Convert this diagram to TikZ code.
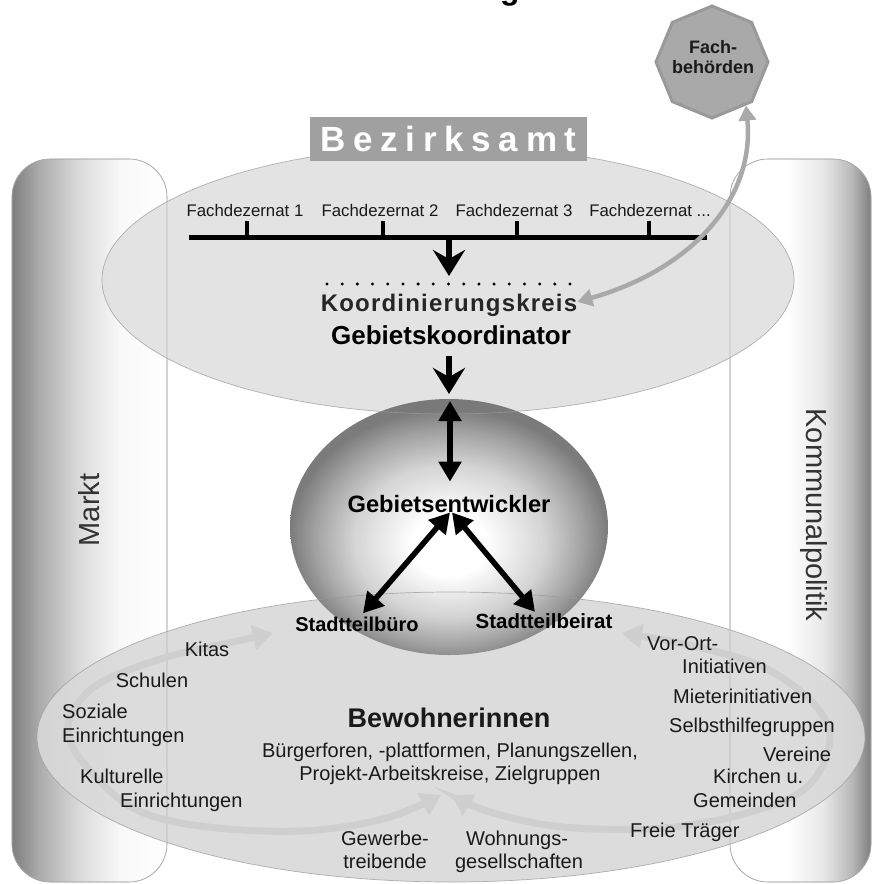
\documentclass[tikz,border=0pt]{standalone}
\usepackage{fontspec}
\setmainfont{Liberation Sans}
\usetikzlibrary{shapes.geometric,arrows.meta}
\definecolor{txt}{HTML}{1A1A1A}
\definecolor{sidec}{HTML}{333333}
\definecolor{koordc}{HTML}{262626}
\definecolor{cylD}{HTML}{7E7E7E}
\definecolor{cylline}{HTML}{A8A8A8}
\definecolor{ellF}{HTML}{E0E0E0}
\definecolor{ellFb}{HTML}{D9D9D9}
\definecolor{ellB}{HTML}{9A9A9A}
\definecolor{sphD}{HTML}{727272}
\definecolor{bzk}{HTML}{A0A0A0}
\definecolor{octF}{HTML}{A9A9A9}
\definecolor{octB}{HTML}{999999}
\definecolor{garr}{HTML}{A9A9A9}
\definecolor{ringc}{HTML}{CFCFCF}
\pgfdeclarehorizontalshading{cylLeft}{100bp}{color(0bp)=(cylD); color(25bp)=(cylD); color(34bp)=(gray!65); color(47bp)=(gray!28); color(60bp)=(gray!5); color(75bp)=(white); color(100bp)=(white)}
\pgfdeclarehorizontalshading{cylRight}{100bp}{color(0bp)=(white); color(25bp)=(white); color(45bp)=(white); color(58bp)=(gray!18); color(68bp)=(gray!55); color(75bp)=(cylD); color(100bp)=(cylD)}
\pgfdeclareradialshading{sph}{\pgfpoint{0bp}{-4bp}}{color(0bp)=(white); color(6bp)=(white); color(15bp)=(gray!36); color(21bp)=(gray!78); color(25bp)=(sphD); color(50bp)=(sphD)}
\begin{document}
\begin{tikzpicture}[x=1pt,y=-1pt,
  fd/.style={font=\fontsize{16.8}{19}\selectfont, text=txt, inner sep=0pt, anchor=base},
  lbl/.style={font=\fontsize{20}{23}\selectfont, text=txt, inner sep=0pt, anchor=base west},
  lblc/.style={font=\fontsize{20}{23}\selectfont, text=txt, inner sep=0pt, anchor=base},
  bt/.style={font=\bfseries\fontsize{20}{23}\selectfont, text=black, inner sep=0pt, anchor=base},
  side/.style={font=\fontsize{29}{32}\selectfont, text=sidec, inner sep=0pt},
  cylbox/.style={rounded corners=38pt},
  cylout/.style={draw=cylline, line width=0.6pt, rounded corners=38pt},
  blkarr/.style={line width=5.5pt, draw=black, >={Triangle[width=22pt,length=20pt]}, <->},
  dnarr/.style={line width=6pt, draw=black, >={Stealth[length=26pt,width=32pt,inset=9pt]}, ->},
  garrow/.style={line width=4.5pt, draw=garr, >={Triangle[width=17pt,length=15pt]}, <->},
  ringarr/.style={line width=7pt, draw=ringc, >={Triangle[width=24pt,length=20pt]}, <->},
  ellout/.style={draw=ellB, line width=0.7pt, draw opacity=0.75}
]
\useasboundingbox (0,0) rectangle (872,884);
\fill[white] (0,0) rectangle (872,884);

% title (cut off at the top, as in the reference)
\node[inner sep=0pt, anchor=base, font=\bfseries\fontsize{32}{36}\selectfont] (title) at (452,-1) {Stadtteilmanagement};

% cylinders
\shade[shading=cylLeft, cylbox] (12,159) rectangle (167,882);
\shade[shading=cylRight, cylbox] (730,159) rectangle (871,882);
\draw[cylout] (12,159) rectangle (167,882);
\draw[cylout] (730,159) rectangle (871,882);

% ellipses
\fill[ellF, fill opacity=0.88] (448,280) ellipse [x radius=346, y radius=134];
\fill[ellFb, fill opacity=0.9] (451,737) ellipse [x radius=414, y radius=145];

% sphere
\shade[shading=sph, opacity=0.93] (449,527) ellipse [x radius=159, y radius=128];

% outlines on top
\draw[ellout] (448,280) ellipse [x radius=346, y radius=134];
\draw[ellout] (451,737) ellipse [x radius=414, y radius=145];
\draw[cylout, draw opacity=0.6] (12,159) rectangle (167,882);
\draw[cylout, draw opacity=0.6] (730,159) rectangle (871,882);

% side labels
\node[side, rotate=90] (markt) at (89,510) {Markt};
\node[side, rotate=-90] (komm) at (814,515) {Kommunalpolitik};

% Bezirksamt
\node[fill=bzk, minimum width=277pt, minimum height=44pt, inner sep=0pt, text=white,
  font=\bfseries\fontsize{35}{38}\selectfont\addfontfeature{LetterSpace=22}] (bez) at (448.5,139) {Bezirksamt};

% Fachdezernate
\node[fd] (fd1) at (245,216) {Fachdezernat 1};
\node[fd] (fd2) at (380,216) {Fachdezernat 2};
\node[fd] (fd3) at (514,216) {Fachdezernat 3};
\node[fd] (fd4) at (650,216) {Fachdezernat ...};
\draw[line width=5pt] (189,237.5) -- (707,237.5);
\foreach \x in {247,383,517,649} \draw[line width=4pt] (\x,221) -- (\x,236);

\coordinate (barc) at (449,240);
\coordinate (dotc) at (449,276);
\draw[dnarr] (barc) -- (dotc);
\draw[line width=3.3pt, line cap=round, dash pattern=on 0pt off 15.19pt] (327,284) -- (571,284);

\node[font=\bfseries\fontsize{24}{28}\selectfont\addfontfeature{LetterSpace=5}, text=koordc, inner sep=0pt, anchor=base] (koord) at (449,311) {Koordinierungskreis};
\node[font=\bfseries\fontsize{26}{30}\selectfont, text=black, inner sep=0pt, anchor=base] (gebk) at (451,344) {Gebietskoordinator};
\coordinate (gk2) at (449,394);
\draw[dnarr] ([xshift=-2pt,yshift=-12pt]gebk.south) -- (gk2);

% sphere contents
\node[font=\bfseries\fontsize{23.7}{27}\selectfont, text=black, inner sep=0pt, anchor=base] (gebe) at (449,512) {Gebietsentwickler};
\node[bt] (buero) at (357,631) {Stadtteilbüro};
\node[bt, font=\bfseries\fontsize{20.5}{23}\selectfont] (beirat) at (544,628) {Stadtteilbeirat};
\coordinate (sphtop) at (450,401);
\draw[blkarr] (sphtop) -- ([xshift=1pt,yshift=13pt]gebe.north);
\draw[blkarr] ([xshift=1pt]gebe.south) -- ([xshift=6pt,yshift=3pt]buero.north);
\draw[blkarr] ([xshift=3pt]gebe.south) -- ([xshift=-9pt,yshift=1pt]beirat.north);

% ring arrows in the lower ellipse
\draw[ringarr] plot[smooth, tension=0.6] coordinates {(273,633) (233,642) (167,657) (100,683) (72,713) (70,740) (87,767) (133,808) (200,826) (300,831) (383,819) (441,795)};
\draw[ringarr] plot[smooth, tension=0.6] coordinates {(622,633) (697,647) (763,667) (813,703) (830,740) (807,787) (747,813) (663,828) (563,827) (490,812) (452,795)};

% lower ellipse texts
\node[font=\bfseries\fontsize{27}{30}\selectfont, text=txt, inner sep=0pt, anchor=base] (bew) at (449,727) {Bewohnerinnen};
\node[lblc] (bf1) at (450,757) {Bürgerforen, -plattformen, Planungszellen,};
\node[lblc] (bf2) at (450,780) {Projekt-Arbeitskreise, Zielgruppen};

\node[lblc] (kitas) at (207,656) {Kitas};
\node[lblc] (schulen) at (152,687) {Schulen};
\node[lbl] (soz1) at (62,718) {Soziale};
\node[lbl] (soz2) at (62,742) {Einrichtungen};
\node[lbl] (kul1) at (80,783) {Kulturelle};
\node[lbl] (kul2) at (120,807) {Einrichtungen};
\node[lblc] (gew1) at (385,845) {Gewerbe-};
\node[lblc] (gew2) at (385,868) {treibende};
\node[lblc] (woh1) at (517,845) {Wohnungs-};
\node[lblc] (woh2) at (519,868) {gesellschaften};
\node[lbl] (vor1) at (647,650) {Vor-Ort-};
\node[lbl] (vor2) at (682,673) {Initiativen};
\node[lbl] (miet) at (673,703) {Mieterinitiativen};
\node[lbl] (selb) at (669,732) {Selbsthilfegruppen};
\node[lbl] (ver) at (763,761) {Vereine};
\node[lbl] (kir1) at (713,783) {Kirchen u.};
\node[lbl] (kir2) at (693,807) {Gemeinden};
\node[lbl] (frei) at (630,837) {Freie Träger};

% Fachbehoerden
\node[regular polygon, regular polygon sides=8, shape border rotate=22.5, minimum size=112pt,
  fill=octF, draw=octB, line width=3pt, inner sep=0pt] (fachb) at (712,62) {};
\node[align=center, inner sep=0pt, font=\bfseries\fontsize{18}{20}\selectfont, text=txt] (fachbl) at (713,57) {Fach-\\behörden};
\draw[garrow] ([yshift=3pt]koord.east) .. controls (690,270) and (755,200) .. (fachb.-52);
\end{tikzpicture}
\end{document}
